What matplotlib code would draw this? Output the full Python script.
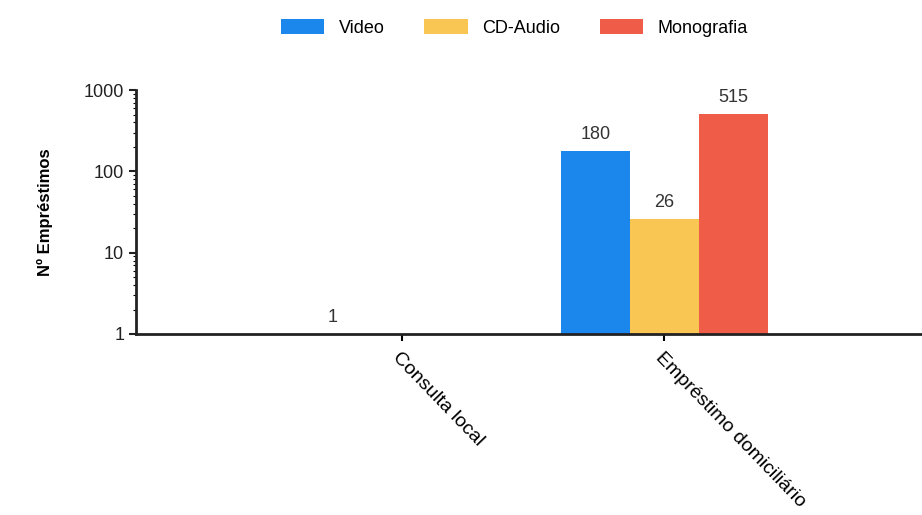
import matplotlib.pyplot as plt
import numpy as np

plt.rcParams["font.family"] = ["Liberation Sans", "DejaVu Sans"]

categories = ["Consulta local", "Empréstimo domiciliário"]
series = ["Video", "CD-Audio", "Monografia"]
video = [1, 180]
cd_audio = [0, 26]
monografia = [0, 515]
colors = ["#1b86ec", "#f9c553", "#ef5d48"]

fig = plt.figure(figsize=(9.22, 5.15), dpi=100)
ax = fig.add_axes([0.1475, 0.3515, 0.8525, 0.4735])

x = np.arange(len(categories))
w = 0.263
for i, (name, vals) in enumerate(zip(series, [video, cd_audio, monografia])):
    pos = x + (i - 1) * w
    vals = np.array(vals, dtype=float)
    ax.bar(pos, vals, width=w, bottom=0, color=colors[i], label=name)
    for p, v in zip(pos, vals):
        if v > 0:
            ax.text(p, v * 1.25, f"{v:g}", ha="center", va="bottom",
                    fontsize=13, color="#333333")

ax.set_yscale("log")
ax.set_ylim(1, 1000)
ax.set_xlim(-1.01, 1.98)
ax.set_yticks([1, 10, 100, 1000])
ax.set_yticklabels(["1", "10", "100", "1000"])
ax.set_xticks(x)
ax.set_xticklabels(categories, rotation=-46, ha="left", va="top",
                   rotation_mode="anchor", fontsize=14)
ax.tick_params(axis="y", labelsize=13, length=5, width=1.5, colors="#222222")
ax.tick_params(axis="y", which="minor", length=2, width=0.8)
ax.tick_params(axis="x", length=5, width=1.5, pad=6)
ax.set_ylabel("Nº Empréstimos", fontsize=12, fontweight="bold", labelpad=22)

for s in ["top", "right"]:
    ax.spines[s].set_visible(False)
for s in ["left", "bottom"]:
    ax.spines[s].set_linewidth(2)
    ax.spines[s].set_color("#222222")

fig.legend(loc="upper center", bbox_to_anchor=(0.558, 0.995), ncol=3,
           frameon=False, fontsize=13, handlelength=2.4, handleheight=0.9,
           columnspacing=2.2)

fig.savefig("out.png", dpi=100)
